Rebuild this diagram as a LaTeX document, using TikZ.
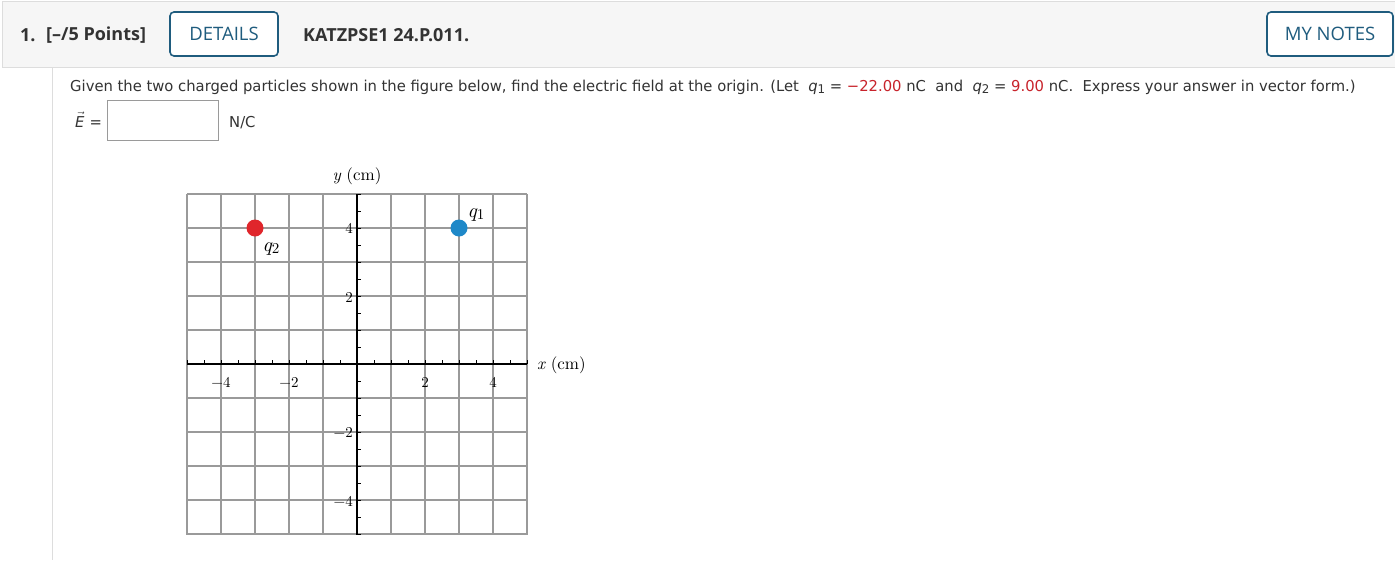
\documentclass[tikz,border=0pt]{standalone}
\usepackage{fix-cm}
\usepackage{fontspec}
\newfontfamily\uifont{Open Sans}
\newfontfamily\qfont{DejaVu Sans}[FakeStretch=0.985]
\newfontfamily\gfont{lmroman10-regular.otf}[ItalicFont=lmroman10-italic.otf]
\newcommand\qsub[1]{{\itshape q}\raisebox{-0.3ex}{\fontsize{12}{12}\selectfont #1}}
\newcommand\gsub[1]{{\itshape q}\raisebox{-0.25ex}{\fontsize{15}{15}\selectfont #1}}
\definecolor{hdrbg}{HTML}{F6F6F6}
\definecolor{hdrline}{HTML}{DDDDDD}
\definecolor{btncol}{HTML}{1F5C7E}
\definecolor{hdrtxt}{HTML}{333333}
\definecolor{qtxt}{HTML}{333333}
\definecolor{redtxt}{HTML}{C8232B}
\definecolor{reddot}{HTML}{E0262B}
\definecolor{bluedot}{HTML}{1E88C8}
\definecolor{gridcol}{HTML}{9A9A9A}
\begin{document}
\begin{tikzpicture}[x=1pt,y=-1pt,
  hdrtext/.style={inner sep=0pt, text=hdrtxt, font=\uifont\bfseries\fontsize{18}{21}\selectfont},
  btnbox/.style={draw=btncol, line width=1.6pt, rounded corners=4pt, fill=white, text=btncol,
     font=\uifont\fontsize{18.5}{21}\selectfont, inner sep=0pt},
  qtext/.style={inner sep=0pt, text=qtxt, font=\qfont\fontsize{15}{18}\selectfont},
  ticklab/.style={inner sep=0pt, font=\gfont\fontsize{15}{17}\selectfont},
  dot/.style={circle, inner sep=0pt, minimum size=17pt},
  qlab/.style={inner sep=0pt, font=\gfont\fontsize{20}{22}\selectfont},
  axlab/.style={inner sep=0pt, font=\gfont\fontsize{17}{20}\selectfont},
  gridline/.style={draw=gridcol, line width=1.1pt},
  axisline/.style={draw=black, line width=1.3pt}
]
\useasboundingbox (0,0) rectangle (1395,560);
\fill[white] (0,0) rectangle (1395,560);
% header
\draw[fill=hdrbg, draw=hdrline, line width=1pt] (2,1) rectangle (1396,67);
\draw[hdrline, line width=1pt] (52,67) -- (52,560);
\node[hdrtext, anchor=west] (num) at (20,35) {1.};
\node[hdrtext, anchor=west] (pts) at (46,35) {[–/5 Points]};
\node[btnbox, minimum width=108pt, minimum height=44pt] (details) at (224,34) {DETAILS};
\node[hdrtext, anchor=west] (code) at (303,35) {KATZPSE1 24.P.011.};
\node[btnbox, minimum width=126pt, minimum height=44pt] (notes) at (1330,34) {MY NOTES};
% question
\node[qtext, anchor=base west] (question) at (70,91) {Given the two charged particles shown in the figure below, find the electric field at the origin. (Let\ \ \qsub{1} = \textcolor{redtxt}{−22.00} nC\ \ and\ \ \qsub{2} = \textcolor{redtxt}{9.00} nC.\ \ Express your answer in vector form.)};
\node[qtext, anchor=base west] (evec) at (75,127) {$\vec{\mbox{\qfont\itshape E}}$\,\,=};
\draw[draw=gridcol, line width=1pt, fill=white] (107,100) rectangle (218,140);
\node[qtext, anchor=base west] (unit) at (229,127) {N/C};
% grid
\foreach \i in {0,...,10} {
  \draw[gridline] (187+34*\i,194) -- (187+34*\i,535);
  \draw[gridline] (187,194+34*\i) -- (527,194+34*\i);
}
\draw[axisline] (187,364) -- (527,364);
\draw[axisline] (357,194) -- (357,535);
\foreach \i in {0,...,20} {
  \draw[black, line width=0.8pt] (187+17*\i,364) -- (187+17*\i,360);
  \draw[black, line width=0.8pt] (357,194+17*\i) -- (361,194+17*\i);
}
% tick labels
\node[ticklab] (xm4) at (221,382) {−4};
\node[ticklab] (xm2) at (289,382) {−2};
\node[ticklab] (xp2) at (425,382) {2};
\node[ticklab] (xp4) at (493,382) {4};
\node[ticklab, anchor=east] (yp4) at (353,228) {4};
\node[ticklab, anchor=east] (yp2) at (353,297) {2};
\node[ticklab, anchor=east] (ym2) at (353,432) {−2};
\node[ticklab, anchor=east] (ym4) at (353,501) {−4};
\node[axlab] (ylab) at (357,176) {{\itshape y} (cm)};
\node[axlab, anchor=west] (xlab) at (537,365) {{\itshape x} (cm)};
% charges
\node[dot, fill=reddot] (q2) at (255,228) {};
\node[dot, fill=bluedot] (q1) at (459,228) {};
\node[qlab] (q1lab) at (476,215) {\gsub{1}};
\node[qlab] (q2lab) at (271,249) {\gsub{2}};
\end{tikzpicture}
\end{document}
